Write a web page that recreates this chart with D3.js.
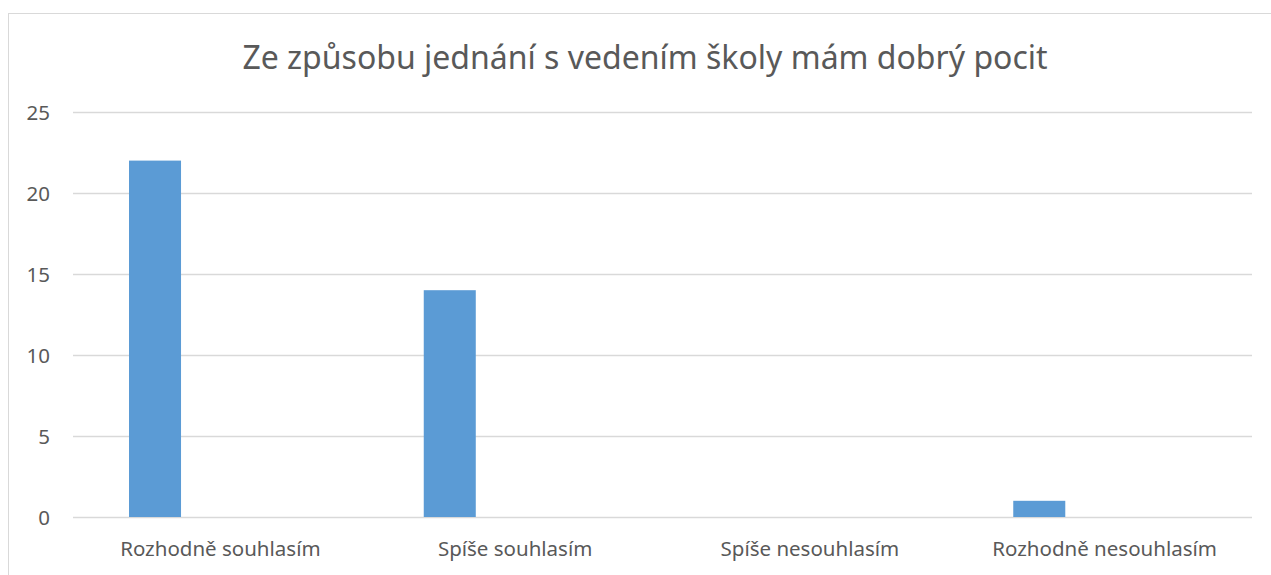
<!DOCTYPE html>
<head>
<meta charset="utf-8">
<title>Ze způsobu jednání s vedením školy mám dobrý pocit</title>
<script src="https://d3js.org/d3.v7.min.js"></script>
<style>
body { margin: 0; background: #fff; }
text { font-family: "Noto Sans", "Open Sans", sans-serif; fill: #595959; }
</style>
</head>
<body>
<div id="container"></div>
<script>
//----------------------------DATA------------------------------//
const categories = ["Rozhodně souhlasím", "Spíše souhlasím", "Spíše nesouhlasím", "Rozhodně nesouhlasím"];
const values = [22, 14, 0, 1];
const yTicks = [0, 5, 10, 15, 20, 25];
const title = "Ze způsobu jednání s vedením školy mám dobrý pocit";

//-----------------------------SVG------------------------------//
const width = 1271;
const height = 575;
const plot = {left: 73, right: 1252, top: 112, bottom: 517};

const svg = d3.select("div#container").append("svg")
    .attr("width", width)
    .attr("height", height);

// chart frame (right and bottom run off the picture)
svg.append("rect")
    .attr("x", 8.5)
    .attr("y", 13.5)
    .attr("width", width + 20)
    .attr("height", height + 20)
    .attr("fill", "#fff")
    .attr("stroke", "#d9d9d9")
    .attr("stroke-width", 1);

//----------------------------SCALES----------------------------//
const xScale = d3.scaleBand()
    .domain(categories)
    .range([plot.left, plot.right])
    .padding(0);

const yScale = d3.scaleLinear()
    .domain([0, 25])
    .range([plot.bottom, plot.top]);

//----------------------------GRID------------------------------//
svg.append("g")
    .attr("class", "grid-lines")
    .selectAll("line")
    .data(yTicks)
    .join("line")
    .attr("x1", plot.left)
    .attr("x2", plot.right)
    .attr("y1", d => Math.round(yScale(d)) + 0.5)
    .attr("y2", d => Math.round(yScale(d)) + 0.5)
    .attr("stroke", "#d9d9d9")
    .attr("stroke-width", 1.3);

//-----------------------------AXES-----------------------------//
const yaxis = d3.axisLeft(yScale)
    .tickValues(yTicks)
    .tickSize(0)
    .tickPadding(0);

svg.append("g")
    .attr("transform", "translate(50,0)")
    .call(yaxis)
    .call(g => g.select(".domain").remove())
    .selectAll("text")
    .attr("fill", "#595959")
    .style("font-size", "20.5px")
    .attr("dy", "0.36em");

const xaxis = d3.axisBottom(xScale)
    .tickSize(0)
    .tickPadding(0);

svg.append("g")
    .attr("transform", "translate(0," + plot.bottom + ")")
    .call(xaxis)
    .call(g => g.select(".domain").remove())
    .selectAll("text")
    .attr("fill", "#595959")
    .style("font-size", "20.5px")
    .attr("y", 39)
    .attr("dy", 0);

//----------------------------BARS------------------------------//
// bar sits left of centre in each category slot
const bw = xScale.bandwidth();
svg.append("g")
    .selectAll("rect")
    .data(categories)
    .join("rect")
    .attr("x", (d, i) => xScale(d) + bw * 0.19)
    .attr("width", bw * 0.1765)
    .attr("y", (d, i) => yScale(values[i]))
    .attr("height", (d, i) => yScale(0) - yScale(values[i]))
    .attr("fill", "#5b9bd5");

//----------------------------TITLE-----------------------------//
svg.append("text")
    .attr("x", 645)
    .attr("y", 69)
    .attr("text-anchor", "middle")
    .style("font-size", "32px")
    .text(title);
</script>
</body>
